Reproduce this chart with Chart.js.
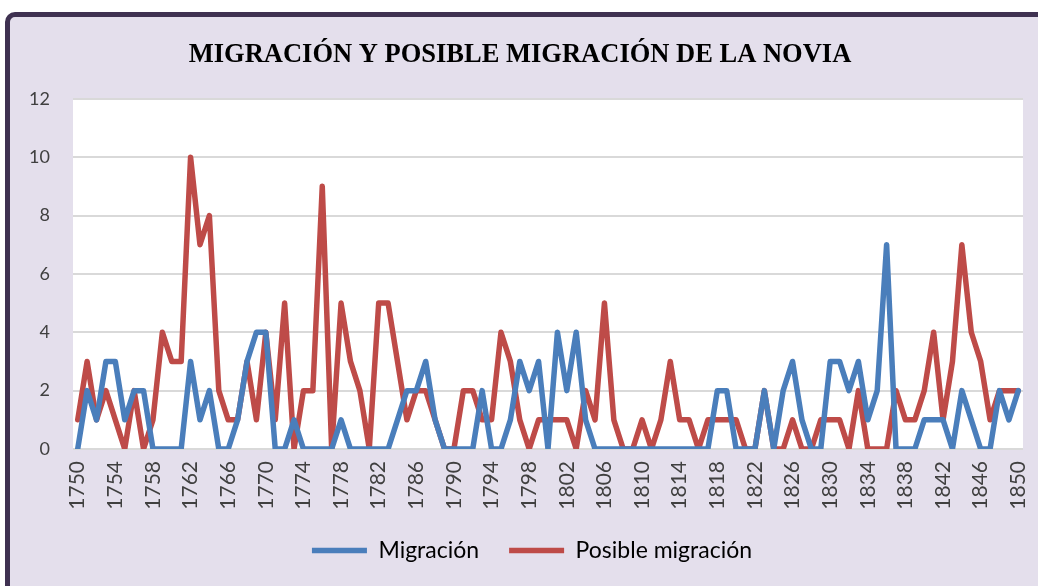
<!DOCTYPE html>
<html>
<head>
<meta charset="utf-8">
<script src="https://cdn.jsdelivr.net/npm/chart.js@4.4.0/dist/chart.umd.min.js"></script>
<style>
  body { margin: 0; background: #fff; }
  #wrap { position: relative; width: 1038px; height: 586px; overflow: hidden; }
  #frame {
    position: absolute; left: 5px; top: 12px; width: 1100px; height: 700px;
    box-sizing: border-box; border: 5px solid #3F3151; border-radius: 10px;
    background: #E4DFEC;
  }
  canvas { position: absolute; left: 0; top: 0; }
</style>
</head>
<body>
<div id="wrap">
  <div id="frame"></div>
  <canvas id="chart" width="1038" height="586"></canvas>
</div>
<script>
// Years on the x axis
const years = [
  '1750', '1751', '1752', '1753', '1754', '1755', '1756', '1757', '1758', '1759',
  '1760', '1761', '1762', '1763', '1764', '1765', '1766', '1767', '1768', '1769',
  '1770', '1771', '1772', '1773', '1774', '1775', '1776', '1777', '1778', '1779',
  '1780', '1781', '1782', '1783', '1784', '1785', '1786', '1787', '1788', '1789',
  '1790', '1791', '1792', '1793', '1794', '1795', '1796', '1797', '1798', '1799',
  '1800', '1801', '1802', '1803', '1804', '1805', '1806', '1807', '1808', '1809',
  '1810', '1811', '1812', '1813', '1814', '1815', '1816', '1817', '1818', '1819',
  '1820', '1821', '1822', '1823', '1824', '1825', '1826', '1827', '1828', '1829',
  '1830', '1831', '1832', '1833', '1834', '1835', '1836', '1837', '1838', '1839',
  '1840', '1841', '1842', '1843', '1844', '1845', '1846', '1847', '1848', '1849',
  '1850'
];

// Only these years get a label under the axis
const tickYears = [
  '1750', '1754', '1758', '1762', '1766', '1770', '1774', '1778', '1782',
  '1786', '1790', '1794', '1798', '1802', '1806', '1810', '1814', '1818',
  '1822', '1826', '1830', '1834', '1838', '1842', '1846', '1850'
];

// Migración (blue)
const migracion = [
  0, 2, 1, 3, 3, 1, 2, 2, 0, 0,
  0, 0, 3, 1, 2, 0, 0, 1, 3, 4,
  4, 0, 0, 1, 0, 0, 0, 0, 1, 0,
  0, 0, 0, 0, 1, 2, 2, 3, 1, 0,
  0, 0, 0, 2, 0, 0, 1, 3, 2, 3,
  0, 4, 2, 4, 1, 0, 0, 0, 0, 0,
  0, 0, 0, 0, 0, 0, 0, 0, 2, 2,
  0, 0, 0, 2, 0, 2, 3, 1, 0, 0,
  3, 3, 2, 3, 1, 2, 7, 0, 0, 0,
  1, 1, 1, 0, 2, 1, 0, 0, 2, 1,
  2
];

// Posible migración (red)
const posibleMigracion = [
  1, 3, 1, 2, 1, 0, 2, 0, 1, 4,
  3, 3, 10, 7, 8, 2, 1, 1, 3, 1,
  4, 1, 5, 0, 2, 2, 9, 0, 5, 3,
  2, 0, 5, 5, 3, 1, 2, 2, 1, 0,
  0, 2, 2, 1, 1, 4, 3, 1, 0, 1,
  1, 1, 1, 0, 2, 1, 5, 1, 0, 0,
  1, 0, 1, 3, 1, 1, 0, 1, 1, 1,
  1, 0, 0, 2, 0, 0, 1, 0, 0, 1,
  1, 1, 0, 2, 0, 0, 0, 2, 1, 1,
  2, 4, 1, 3, 7, 4, 3, 1, 2, 2,
  2
];

// White plot area
const plotBackground = {
  id: 'plotBackground',
  beforeDraw(chart) {
    const { ctx, chartArea } = chart;
    ctx.save();
    ctx.fillStyle = '#FFFFFF';
    ctx.fillRect(chartArea.left, chartArea.top, chartArea.right - chartArea.left, chartArea.bottom - chartArea.top + 1);
    ctx.restore();
  }
};

// Nudge the legend a bit to the right, like in the original
const legendShift = {
  id: 'legendShift',
  afterLayout(chart) {
    chart.legend.left += 12;
    chart.legend.right += 12;
  }
};

const labelFont = 'Lato, "Liberation Sans", sans-serif';

const data = {
  labels: years,
  datasets: [
    {
      label: 'Migración',
      data: migracion,
      borderColor: '#4A7EBB',
      backgroundColor: '#4A7EBB',
      borderWidth: 5.5,
      pointRadius: 0,
      tension: 0,
      borderJoinStyle: 'round',
      borderCapStyle: 'round'
    },
    {
      label: 'Posible migración',
      data: posibleMigracion,
      borderColor: '#BE4B48',
      backgroundColor: '#BE4B48',
      borderWidth: 5.5,
      pointRadius: 0,
      tension: 0,
      borderJoinStyle: 'round',
      borderCapStyle: 'round'
    }
  ]
};

const config = {
  type: 'line',
  data: data,
  plugins: [plotBackground, legendShift],
  options: {
    responsive: false,
    animation: false,
    devicePixelRatio: 1,
    layout: { padding: { left: 17, right: 15, top: 0, bottom: 14 } },
    plugins: {
      title: {
        display: true,
        text: 'MIGRACIÓN Y POSIBLE MIGRACIÓN DE LA NOVIA',
        color: '#000000',
        font: { family: '"Liberation Serif", "Times New Roman", serif', size: 26.5, weight: 'bold', lineHeight: 1.2 },
        padding: { top: 39, bottom: 28 }
      },
      legend: {
        position: 'bottom',
        labels: {
          usePointStyle: true,
          pointStyle: 'line',
          pointStyleWidth: 55,
          color: '#000000',
          font: { family: labelFont, size: 23 },
          padding: 30
        }
      },
      tooltip: { enabled: false }
    },
    scales: {
      x: {
        offset: true,
        grid: { display: false, drawTicks: false },
        border: { display: false },
        ticks: {
          autoSkip: false,
          maxRotation: 90,
          minRotation: 90,
          padding: 12,
          color: '#404040',
          font: { family: labelFont, size: 21 },
          callback: function (value, index) {
            const year = this.getLabelForValue(value);
            return tickYears.includes(year) ? year : '';
          }
        },
        afterFit: scale => {
          scale.height = 60;
          scale.paddingLeft = 0;
          scale.paddingRight = 0;
        }
      },
      y: {
        min: 0,
        max: 12,
        grid: { color: '#D9D9D9', lineWidth: 2, drawTicks: false },
        border: { display: false },
        ticks: {
          stepSize: 2,
          padding: 23,
          color: '#404040',
          font: { family: labelFont, size: 18 }
        },
        afterFit: scale => { scale.width = 56; }
      }
    }
  }
};

new Chart(document.querySelector('#chart'), config);
</script>
</body>
</html>
